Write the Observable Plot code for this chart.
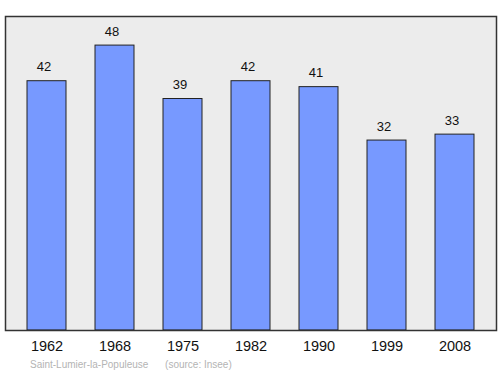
<!DOCTYPE html>
<html>
<head>
<meta charset="utf-8">
<script src="https://cdn.jsdelivr.net/npm/d3@7"></script>
<script src="https://cdn.jsdelivr.net/npm/@observablehq/plot@0.6"></script>
<style>
  body { margin: 0; background: #fff; font-family: "Liberation Sans", Arial, sans-serif; }
  #caption { position: absolute; left: 30px; top: 359px; font-size: 10px; color: #b4b4b4; white-space: pre; }
</style>
</head>
<body>
<div id="chart"></div>
<div id="caption">Saint-Lumier-la-Populeuse      (source: Insee)</div>
<script>
const years = ["1962", "1968", "1975", "1982", "1990", "1999", "2008"];
const population = [42, 48, 39, 42, 41, 32, 33];

const data = years.map((y, i) => ({year: y, pop: population[i]}));

const chart = Plot.plot({
  width: 500,
  height: 356,
  marginTop: 16,
  marginBottom: 26,
  marginLeft: 5,
  marginRight: 4,
  style: {fontFamily: "'Liberation Sans', Arial, sans-serif", background: "#fff"},
  x: {domain: years, paddingInner: 0.43, paddingOuter: 0.308, axis: null},
  y: {domain: [0, 52.9], axis: null},
  marks: [
    Plot.frame({fill: "#ececec", stroke: "none"}),
    Plot.barY(data, {x: "year", y: "pop", fill: "#7799ff", stroke: "#222", strokeWidth: 1}),
    Plot.text(data, {x: "year", y: "pop", text: d => String(d.pop), dy: -14, dx: -3, fontSize: 13, fill: "#111"}),
    Plot.frame({stroke: "#333", strokeWidth: 1.5}),
    Plot.text(data, {x: "year", text: "year", frameAnchor: "bottom", dy: 20, fontSize: 14.5, fill: "#111"})
  ]
});
document.getElementById("chart").appendChild(chart);
</script>
</body>
</html>
